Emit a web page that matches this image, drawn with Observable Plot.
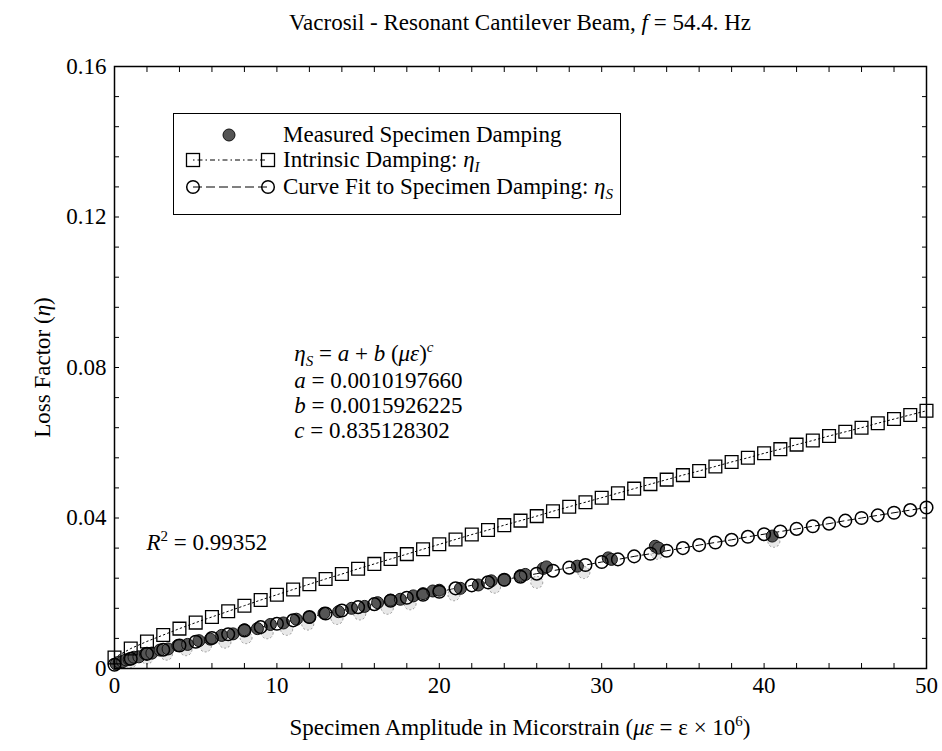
<!DOCTYPE html>
<html><head><meta charset="utf-8">
<script src="https://cdn.jsdelivr.net/npm/d3@7"></script>
<script src="https://cdn.jsdelivr.net/npm/@observablehq/plot@0.6"></script>
<style>
body{margin:0;background:#fff;}
#wrap{position:relative;width:942px;height:751px;font-family:"Liberation Serif","Times New Roman",serif;color:#000;}
.ov{position:absolute;white-space:nowrap;font-size:23px;line-height:23px;}
.ov sub{font-size:15px;vertical-align:-5px;line-height:0;}
.ov sup{font-size:15px;vertical-align:9px;line-height:0;}
</style></head><body><div id="wrap"></div>
<script>
// ---- tick values ----
const xMajor = [0, 10, 20, 30, 40, 50];
const xMinor = [0,2,4,6,8,10,12,14,16,18,20,22,24,26,28,30,32,34,36,38,40,42,44,46,48,50];
const yMajor = [0, 0.04, 0.08, 0.12, 0.16];
const yMinor = [0,0.008,0.016,0.024,0.032,0.04,0.048,0.056,0.064,0.072,0.08,0.088,0.096,0.104,0.112,0.12,0.128,0.136,0.144,0.152,0.16];

// ---- curve-fit / intrinsic series (x in microstrain) ----
const curveX = [0,1,2,3,4,5,6,7,8,9,10,11,12,13,14,15,16,17,18,19,20,21,22,23,24,25,26,27,28,29,30,31,32,33,34,35,36,37,38,39,40,41,42,43,44,45,46,47,48,49,50];
const intrinsicY = [0.0029,0.0053,0.0072,0.0089,0.0106,0.0122,0.0137,0.0152,0.0167,0.0182,0.0196,0.0210,0.0224,0.0238,0.0251,0.0265,0.0278,0.0291,0.0304,0.0317,0.0330,0.0343,0.0356,0.0368,0.0381,0.0393,0.0405,0.0418,0.0430,0.0442,0.0454,0.0466,0.0478,0.0490,0.0502,0.0514,0.0525,0.0537,0.0549,0.0560,0.0572,0.0583,0.0595,0.0606,0.0618,0.0629,0.0640,0.0652,0.0663,0.0674,0.0685];
const fitY = [0.0010,0.0026,0.0039,0.0050,0.0061,0.0071,0.0081,0.0091,0.0101,0.0110,0.0119,0.0128,0.0137,0.0146,0.0154,0.0163,0.0171,0.0180,0.0188,0.0196,0.0204,0.0213,0.0221,0.0229,0.0236,0.0244,0.0252,0.0260,0.0268,0.0275,0.0283,0.0290,0.0298,0.0305,0.0313,0.0320,0.0328,0.0335,0.0342,0.0350,0.0357,0.0364,0.0371,0.0378,0.0385,0.0393,0.0400,0.0407,0.0414,0.0421,0.0428];

// ---- measured specimen damping ----
const measX = [0.1,0.3,0.5,0.7,0.9,1.2,1.5,1.9,2.3,2.8,3.3,3.9,4.5,5.2,5.9,6.6,7.3,8.0,8.8,9.6,10.4,11.2,12.0,12.9,13.8,14.6,15.4,16.2,17.0,17.6,18.4,19.0,19.6,20.0,21.3,22.4,23.2,24.0,25.0,25.3,26.4,26.6,28.5,30.4,30.6,33.3,33.5,40.5];
const measY = [0.0012,0.0017,0.0018,0.0023,0.0024,0.0030,0.0031,0.0039,0.0041,0.0049,0.0052,0.0061,0.0064,0.0074,0.0078,0.0088,0.0092,0.0103,0.0106,0.0117,0.0121,0.0131,0.0136,0.0147,0.0151,0.0160,0.0165,0.0175,0.0182,0.0184,0.0193,0.0199,0.0206,0.0208,0.0213,0.0222,0.0233,0.0235,0.0247,0.0250,0.0266,0.0270,0.0272,0.0294,0.0290,0.0325,0.0320,0.0352];
const measLightX = [1.0,2.0,3.2,4.4,5.6,6.8,8.1,9.4,10.6,11.9,13.7,15.1,16.8,18.2,20.9,23.4,26.0,28.9,33.4,40.6];
const measLightY = [0.0018,0.0028,0.0038,0.0050,0.0060,0.0070,0.0082,0.0095,0.0104,0.0118,0.0133,0.0145,0.0160,0.0172,0.0196,0.0216,0.0229,0.0255,0.0306,0.0338];

const fitData = curveX.map((x,i)=>({x, y: fitY[i]}));
const intrData = curveX.map((x,i)=>({x, y: intrinsicY[i]}));
const measData = measX.map((x,i)=>({x, y: measY[i]}));
const lightData = measLightX.map((x,i)=>({x, y: measLightY[i]}));

const fmtY = d => d === 0 ? "0" : d.toFixed(2);

const plot = Plot.plot({
  width: 942, height: 751,
  marginLeft: 114, marginRight: 16, marginTop: 66, marginBottom: 83,
  x: {domain: [0, 50]},
  y: {domain: [0, 0.16]},
  style: {fontFamily: '"Liberation Serif","Times New Roman",serif', fontSize: "23px", color: "black", background: "white", overflow: "visible"},
  marks: [
    Plot.line(fitData, {x: "x", y: "y", stroke: "black", strokeWidth: 1, strokeDasharray: "7,4"}),
    Plot.line(intrData, {x: "x", y: "y", stroke: "black", strokeWidth: 1, strokeDasharray: "1.5,3"}),
    Plot.dot(lightData, {x: "x", y: "y", r: 6, fill: "#d8d8d8", fillOpacity: 0.6, stroke: "#999", strokeWidth: 1, strokeDasharray: "2,2"}),
    Plot.dot(measData, {x: "x", y: "y", r: 6, fill: "#555", stroke: "#111", strokeWidth: 1}),
    Plot.dot(intrData, {x: "x", y: "y", symbol: "square", r: 7.2, fill: "none", stroke: "black", strokeWidth: 1.3}),
    Plot.dot(fitData, {x: "x", y: "y", r: 6.3, fill: "none", stroke: "black", strokeWidth: 1.5}),
    Plot.frame({stroke: "black", strokeWidth: 1.5}),
    Plot.axisX(xMinor, {anchor: "bottom", tickSize: -5, tickFormat: () => "", label: null}),
    Plot.axisX(xMinor, {anchor: "top", tickSize: -5, tickFormat: () => "", label: null}),
    Plot.axisY(yMinor, {anchor: "left", tickSize: -5, tickFormat: () => "", label: null}),
    Plot.axisY(yMinor, {anchor: "right", tickSize: -5, tickFormat: () => "", label: null}),
    Plot.axisX(xMajor, {anchor: "bottom", tickSize: 0, tickPadding: 8, label: null, fontSize: 23}),
    Plot.axisY(yMajor, {anchor: "left", tickSize: 0, tickPadding: 8, label: null, tickFormat: fmtY, fontSize: 23})
  ]
});

const wrap = document.getElementById("wrap");
wrap.appendChild(plot);
const sx = plot.scale("x"), sy = plot.scale("y");

function ov(html, left, top, extra) {
  const d = document.createElement("div");
  d.className = "ov";
  d.innerHTML = html;
  d.style.left = left + "px";
  d.style.top = top + "px";
  if (extra) Object.assign(d.style, extra);
  wrap.appendChild(d);
  return d;
}

// title
const cx = (sx.apply(0) + sx.apply(50)) / 2;
ov('Vacrosil - Resonant Cantilever Beam, <i>f</i> = 54.4. Hz', cx, 11, {transform: "translateX(-50%)"});
// x axis title
ov('Specimen Amplitude in Micorstrain (<i>μ</i><i>ε</i> = ε × 10<sup>6</sup>)', cx, 716, {transform: "translateX(-50%)"});
// y axis title
const cy = (sy.apply(0) + sy.apply(0.16)) / 2;
ov('Loss Factor (<i>η</i>)', 42, cy - 11, {transform: "translateX(-50%) rotate(-90deg)", transformOrigin: "50% 50%"});

// equation annotation
const ex = sx.apply(11.1), ey = sy.apply(0.0832);
ov('<i>η</i><sub><i>S</i></sub> = <i>a</i> + <i>b</i> (<i>με</i>)<sup><i>c</i></sup>', ex, ey - 13);
ov('<i>a</i> = 0.0010197660', ex, ey - 11 + 25);
ov('<i>b</i> = 0.0015926225', ex, ey - 11 + 50);
ov('<i>c</i> = 0.835128302', ex, ey - 11 + 75);
ov('<i>R</i><sup>2</sup> = 0.99352', sx.apply(2.0), sy.apply(0.0335) - 11);

// legend
const lg = document.createElement("div");
Object.assign(lg.style, {position: "absolute", left: "173px", top: "113px", height: "102px", width: "448px",
  border: "1.5px solid black", background: "white", boxSizing: "border-box"});
wrap.appendChild(lg);
const svgNS = "http://www.w3.org/2000/svg";
const ls = document.createElementNS(svgNS, "svg");
ls.setAttribute("width", 110); ls.setAttribute("height", 100);
ls.style.position = "absolute"; ls.style.left = "0px"; ls.style.top = "0px";
ls.innerHTML = `
  <circle cx="55" cy="21" r="6" fill="#555" stroke="#111"/>
  <line x1="19" y1="46" x2="94" y2="46" stroke="black" stroke-dasharray="1.5,3,5,3"/>
  <rect x="12.5" y="39.5" width="13" height="13" fill="none" stroke="black" stroke-width="1.3"/>
  <rect x="87.5" y="39.5" width="13" height="13" fill="none" stroke="black" stroke-width="1.3"/>
  <line x1="19" y1="73" x2="94" y2="73" stroke="black" stroke-dasharray="9,4"/>
  <circle cx="19" cy="73" r="6.3" fill="none" stroke="black" stroke-width="1.5"/>
  <circle cx="94" cy="73" r="6.3" fill="none" stroke="black" stroke-width="1.5"/>`;
lg.appendChild(ls);
function lgText(html, top) {
  const d = document.createElement("div");
  d.className = "ov"; d.innerHTML = html;
  d.style.left = "109px"; d.style.top = top + "px";
  lg.appendChild(d);
  return d;
}
lgText('Measured Specimen Damping', 9);
lgText('Intrinsic Damping: <i>η</i><sub><i>I</i></sub>', 34);
lgText('Curve Fit to Specimen Damping: <i>η</i><sub><i>S</i></sub>', 61);
</script></body></html>
